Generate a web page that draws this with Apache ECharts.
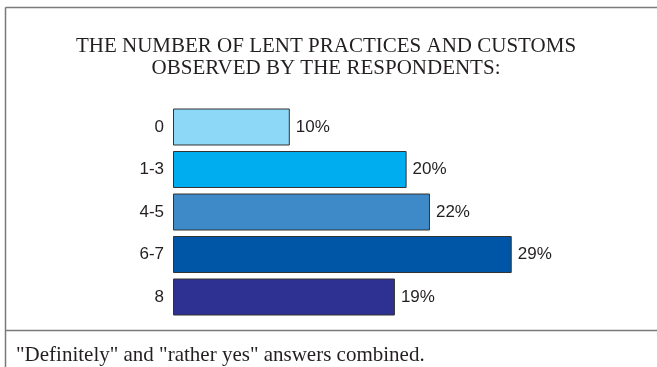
<!DOCTYPE html>
<html>
<head>
<meta charset="utf-8">
<script src="https://cdn.jsdelivr.net/npm/echarts@6/dist/echarts.min.js"></script>
<style>
  html, body { margin: 0; padding: 0; background: #ffffff; }
  #chart { width: 657px; height: 367px; }
</style>
</head>
<body>
<div id="chart"></div>
<script>
// Survey groups (number of practices observed) and their shares, in percent
const categories = ['0', '1-3', '4-5', '6-7', '8'];
const shares = [10, 20, 22, 29, 19];
const barColors = ['#8dd7f7', '#00aeef', '#3e89c7', '#0056a6', '#2e3192'];

const titleText = 'THE NUMBER OF LENT PRACTICES AND CUSTOMS\nOBSERVED BY THE RESPONDENTS:';
const noteText = '"Definitely" and "rather yes" answers combined.';

const chart = echarts.init(document.getElementById('chart'), null, { renderer: 'canvas' });

const serif = '"Liberation Serif", "Times New Roman", Times, serif';
const sans = '"Liberation Sans", Arial, Helvetica, sans-serif';
const frameColor = '#7a7a7a';

chart.setOption({
  backgroundColor: '#ffffff',
  animation: false,
  title: [
    {
      text: titleText,
      left: 326,
      top: 35,
      padding: 0,
      textAlign: 'center',
      textStyle: {
        fontFamily: serif,
        fontWeight: 'normal',
        fontSize: 21,
        lineHeight: 22.5,
        color: '#231f20'
      }
    },
    {
      text: noteText,
      left: 16,
      top: 345,
      padding: 0,
      textStyle: {
        fontFamily: serif,
        fontWeight: 'normal',
        fontSize: 21,
        lineHeight: 21,
        color: '#231f20'
      }
    }
  ],
  graphic: [
    // frame: top edge, left edge and the separator above the note
    { type: 'line', shape: { x1: 5.5, y1: 7.5, x2: 657, y2: 7.5 }, style: { stroke: frameColor, lineWidth: 1.5 } },
    { type: 'line', shape: { x1: 5.5, y1: 7.5, x2: 5.5, y2: 367 }, style: { stroke: frameColor, lineWidth: 1.5 } },
    { type: 'line', shape: { x1: 5.5, y1: 330.5, x2: 657, y2: 330.5 }, style: { stroke: frameColor, lineWidth: 1.5 } }
  ],
  grid: {
    left: 173,
    top: 105.75,
    width: 350.4,
    height: 212.5,
    containLabel: false
  },
  xAxis: {
    type: 'value',
    min: 0,
    max: 30,
    show: false
  },
  yAxis: {
    type: 'category',
    data: categories,
    inverse: true,
    axisLine: { show: false },
    axisTick: { show: false },
    splitLine: { show: false },
    axisLabel: {
      margin: 9,
      fontFamily: sans,
      fontSize: 17,
      color: '#231f20'
    }
  },
  series: [
    {
      type: 'bar',
      data: shares.map((v, i) => ({
        value: v,
        itemStyle: { color: barColors[i] }
      })),
      barWidth: 37,
      itemStyle: {
        borderColor: '#333333',
        borderWidth: 1
      },
      label: {
        show: true,
        position: 'right',
        distance: 6,
        formatter: '{c}%',
        fontFamily: sans,
        fontSize: 17,
        color: '#231f20'
      }
    }
  ]
});
</script>
</body>
</html>
